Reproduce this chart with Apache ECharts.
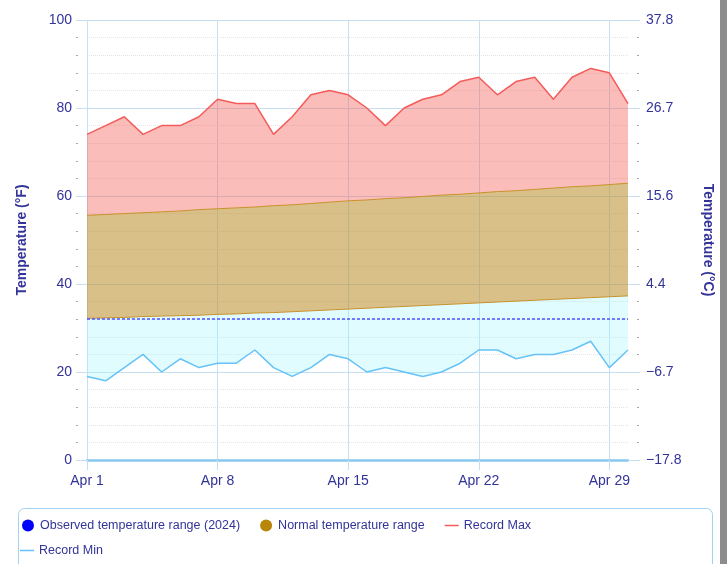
<!DOCTYPE html>
<html>
<head>
<meta charset="utf-8">
<script src="https://cdn.jsdelivr.net/npm/echarts@6/dist/echarts.min.js"></script>
<style>
html,body{margin:0;padding:0;background:#fff;}
#c{width:727px;height:564px;}
</style>
</head>
<body>
<div id="c"></div>
<script>
var days = ['Apr 1','Apr 2','Apr 3','Apr 4','Apr 5','Apr 6','Apr 7','Apr 8','Apr 9','Apr 10',
  'Apr 11','Apr 12','Apr 13','Apr 14','Apr 15','Apr 16','Apr 17','Apr 18','Apr 19','Apr 20',
  'Apr 21','Apr 22','Apr 23','Apr 24','Apr 25','Apr 26','Apr 27','Apr 28','Apr 29','Apr 30'];
var recordMax = [74,76,78,74,76,76,78,82,81,81,74,78,83,84,83,80,76,80,82,83,86,87,83,86,87,82,87,89,88,81];
var recordMin = [19,18,21,24,20,23,21,22,22,25,21,19,21,24,23,20,21,20,19,20,22,25,25,23,24,24,25,27,21,25];
var normalHigh = [55.6,55.8,56.0,56.2,56.4,56.6,56.9,57.1,57.3,57.5,57.8,58.0,58.3,58.6,58.9,
  59.1,59.4,59.6,59.9,60.2,60.4,60.7,61.0,61.2,61.5,61.8,62.1,62.3,62.6,62.9];
var normalLow = [32.2,32.3,32.4,32.6,32.7,32.8,32.9,33.1,33.2,33.4,33.5,33.7,33.9,34.1,34.3,
  34.5,34.7,34.9,35.1,35.3,35.5,35.7,35.9,36.1,36.3,36.5,36.7,36.9,37.1,37.3];
var observed = [];
var freezing = 32;

var navy = '#333399';
var gridBlue = '#c6dff3';
var lineIcon = 'path://M0,0h0.01v0.01h-0.01z M0,5.25h14v1.5h-14z M13.99,11.99h0.01v0.01h-0.01z';

var bandCyan = normalLow.map(function(v,i){return +(v - recordMin[i]).toFixed(2);});
var bandTan = normalHigh.map(function(v,i){return +(v - normalLow[i]).toFixed(2);});
var bandPink = recordMax.map(function(v,i){return +(v - normalHigh[i]).toFixed(2);});

function cLabel(v){
  var c = (v - 32) * 5 / 9;
  var s = Math.abs(c).toFixed(1);
  return (c < 0 ? '\u2212' : '') + s;
}

var minorTick = {show:true, splitNumber:5, length:11, lineStyle:{color:'#aaaaaa', width:1, type:[2,100], dashOffset:93}};
var legendText = {color:navy, fontSize:12.5, fontFamily:'Liberation Sans'};

var chart = echarts.init(document.getElementById('c'), null, {renderer:'canvas'});
chart.setOption({
  animation:false,
  textStyle:{fontFamily:'Liberation Sans'},
  grid:{left:87, right:99, top:20, bottom:104},
  graphic:[
    {type:'rect', shape:{x:18.5, y:508.5, width:694, height:70, r:6}, style:{fill:'#fff', stroke:'#9fd3f2', lineWidth:1}, z:-1},
    {type:'rect', shape:{x:720, y:0, width:7, height:564}, style:{fill:'#8c8c8c'}, z:10}
  ],
  legend:[
    {left:22, top:519, padding:0, itemGap:20, itemWidth:14, itemHeight:12, textStyle:legendText,
     data:[{name:'Observed temperature range (2024)', icon:'circle'},
           {name:'Normal temperature range', icon:'circle'},
           {name:'Record Max', icon:lineIcon}]},
    {left:20, top:544, padding:0, itemGap:20, itemWidth:14, itemHeight:12, textStyle:legendText,
     data:[{name:'Record Min', icon:lineIcon}]}
  ],
  xAxis:{
    type:'category', data:days, boundaryGap:false,
    axisLine:{show:true, lineStyle:{color:'#88c8ef', width:2.5}},
    axisTick:{show:true, interval:6, length:10, lineStyle:{color:gridBlue}},
    axisLabel:{interval:6, color:navy, fontSize:14, margin:14},
    splitLine:{show:true, interval:6, lineStyle:{color:gridBlue, width:1}}
  },
  yAxis:[
    {type:'value', min:0, max:100, interval:20, position:'left',
     name:'Temperature (°F)', nameLocation:'middle', nameGap:58,
     nameTextStyle:{color:navy, fontSize:14, fontWeight:'bold'},
     axisLine:{show:false},
     axisTick:{show:true, length:11, lineStyle:{color:gridBlue}},
     minorTick:minorTick,
     axisLabel:{color:navy, fontSize:14, margin:15},
     splitLine:{show:true, lineStyle:{color:gridBlue, width:1}},
     minorSplitLine:{show:true, lineStyle:{color:'#e4e4e4', type:'dotted', width:1}}
    },
    {type:'value', min:0, max:100, interval:20, position:'right',
     name:'Temperature (°C)', nameLocation:'middle', nameGap:73, nameRotate:-90,
     nameTextStyle:{color:navy, fontSize:14, fontWeight:'bold'},
     axisLine:{show:false},
     axisTick:{show:true, length:12, lineStyle:{color:gridBlue}},
     minorTick:minorTick,
     axisLabel:{color:navy, fontSize:14, margin:18, formatter:cLabel},
     splitLine:{show:false}
    }
  ],
  series:[
    {name:'Observed temperature range (2024)', type:'line', data:observed, itemStyle:{color:'#0000ff'}},
    {name:'base', type:'line', stack:'t', data:recordMin, symbol:'none', silent:true,
     lineStyle:{width:0, opacity:0}, itemStyle:{color:'transparent'}},
    {name:'cyanBand', type:'line', stack:'t', data:bandCyan, symbol:'none', silent:true,
     lineStyle:{width:1, color:'#c8912a'}, areaStyle:{color:'rgba(160,245,255,0.32)', opacity:1}},
    {name:'Normal temperature range', type:'line', stack:'t', data:bandTan, symbol:'none', silent:true,
     itemStyle:{color:'#b8860b'},
     lineStyle:{width:1, color:'#c8912a'}, areaStyle:{color:'rgba(185,140,40,0.55)', opacity:1}},
    {name:'pinkBand', type:'line', stack:'t', data:bandPink, symbol:'none', silent:true,
     lineStyle:{width:0, opacity:0}, areaStyle:{color:'rgba(245,90,80,0.4)', opacity:1}},
    {name:'Record Max', type:'line', data:recordMax, symbol:'none', silent:true,
     itemStyle:{color:'#f45b5b'}, lineStyle:{width:1.5, color:'#f45b5b'}},
    {name:'Record Min', type:'line', data:recordMin, symbol:'none', silent:true,
     itemStyle:{color:'#66c2f7'}, lineStyle:{width:1.5, color:'#66c2f7'},
     markLine:{silent:true, symbol:'none', label:{show:false},
       lineStyle:{color:'#5252ff', type:[3,2], width:1.5},
       data:[{yAxis:freezing}]}}
  ]
});
</script>
</body>
</html>
